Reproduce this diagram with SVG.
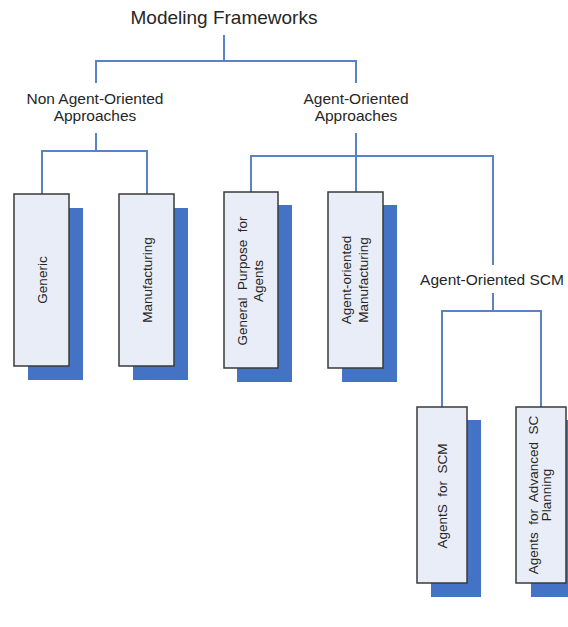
<svg xmlns="http://www.w3.org/2000/svg" width="568" height="627" viewBox="0 0 568 627">
<style>
.lbl{font-family:"Liberation Sans",Arial,sans-serif;fill:#262626;text-anchor:middle}
.title{font-size:19px}
.grp{font-size:15.5px}
.box{fill:#e9edf7;stroke:#3a3a3a;stroke-width:1.5}
.sh{fill:#4472c4}
.bt{font-family:"Liberation Sans",Arial,sans-serif;font-size:13.5px;fill:#262626;text-anchor:middle;white-space:pre}
.con{fill:none;stroke:#5a82c6;stroke-width:2}
</style>
<rect width="568" height="627" fill="#ffffff"/>
<g id="connectors" class="con">
<path d="M224,35 V61"/>
<path d="M96,83 V61 H356 V83"/>
<path d="M96,133 V151"/>
<path d="M42,194 V151 H147 V194"/>
<path d="M356,133 V192"/>
<path d="M251,192 V156 H493 V265"/>
<path d="M493,293 V311"/>
<path d="M442,407 V311 H541 V407"/>
</g>
<g id="title"><text class="lbl title" x="224" y="24">Modeling Frameworks</text></g>
<g id="non-agent">
<text class="lbl grp" x="95" y="104">Non Agent-Oriented</text>
<text class="lbl grp" x="95" y="121">Approaches</text>
</g>
<g id="agent">
<text class="lbl grp" x="356" y="104">Agent-Oriented</text>
<text class="lbl grp" x="356" y="121">Approaches</text>
</g>
<g id="agent-scm"><text class="lbl grp" x="492" y="285">Agent-Oriented SCM</text></g>
<g id="generic">
<rect class="sh" x="28" y="208" width="55" height="172"/>
<rect class="box" x="14" y="194" width="55" height="172"/>
<text class="bt" transform="translate(46.5,280) rotate(-90)">Generic</text>
</g>
<g id="manufacturing">
<rect class="sh" x="133" y="208" width="55" height="172"/>
<rect class="box" x="119" y="194" width="55" height="172"/>
<text class="bt" transform="translate(151.5,280) rotate(-90)">Manufacturing</text>
</g>
<g id="general-purpose">
<rect class="sh" x="237" y="205" width="55" height="177"/>
<rect class="box" x="224" y="192" width="54" height="176"/>
<text class="bt" transform="translate(247,281) rotate(-90)">General  Purpose  for</text>
<text class="bt" transform="translate(263,281) rotate(-90)">Agents</text>
</g>
<g id="agent-manufacturing">
<rect class="sh" x="342" y="205" width="55" height="177"/>
<rect class="box" x="328" y="192" width="55" height="176"/>
<text class="bt" transform="translate(351,280) rotate(-90)">Agent-oriented</text>
<text class="bt" transform="translate(368,280) rotate(-90)">Manufacturing</text>
</g>
<g id="agents-scm">
<rect class="sh" x="431" y="420" width="50" height="177"/>
<rect class="box" x="417" y="407" width="50" height="176"/>
<text class="bt" transform="translate(446.5,496) rotate(-90)">AgentS  for  SCM</text>
</g>
<g id="agents-advanced">
<rect class="sh" x="531" y="420" width="50" height="177"/>
<rect class="box" x="516" y="407" width="50" height="176"/>
<text class="bt" transform="translate(538,495) rotate(-90)">Agents  for  Advanced  SC</text>
<text class="bt" transform="translate(551,495) rotate(-90)">Planning</text>
</g>
</svg>
